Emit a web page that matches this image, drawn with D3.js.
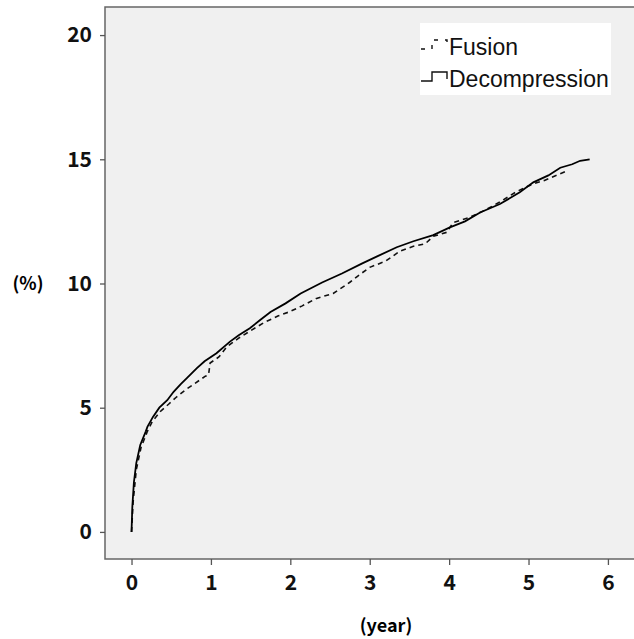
<!DOCTYPE html>
<html>
<head>
<meta charset="utf-8">
<script src="https://cdn.jsdelivr.net/npm/d3@7"></script>
<style>
  body { margin: 0; background: #fff; }
  svg { display: block; }
  .tick text { font-family: "Noto Sans CJK KR", "Noto Sans", sans-serif; font-weight: bold; }
</style>
</head>
<body>
<div id="chart"></div>
<script>
// cumulative incidence
const decompYears = [0, 0.01, 0.03, 0.06, 0.11, 0.18, 0.20, 0.27, 0.35, 0.45, 0.53, 0.62, 0.70, 0.82, 0.92, 1.07, 1.24, 1.35, 1.49, 1.62, 1.75, 1.94, 2.13, 2.40, 2.65, 2.90, 3.10, 3.34, 3.55, 3.80, 4.01, 4.20, 4.39, 4.64, 4.89, 5.06, 5.25, 5.40, 5.55, 5.65, 5.77];
const decompPct = [0, 1.0, 2.0, 2.77, 3.5, 4.05, 4.23, 4.63, 5.0, 5.3, 5.64, 5.95, 6.2, 6.58, 6.87, 7.19, 7.66, 7.92, 8.2, 8.53, 8.85, 9.2, 9.6, 10.04, 10.4, 10.8, 11.1, 11.46, 11.7, 11.95, 12.26, 12.5, 12.86, 13.2, 13.67, 14.07, 14.35, 14.66, 14.8, 14.94, 15.0];

const fusionYears = [0, 0.02, 0.06, 0.12, 0.20, 0.26, 0.36, 0.47, 0.57, 0.68, 0.80, 0.93, 0.97, 0.99, 1.10, 1.20, 1.35, 1.50, 1.67, 1.85, 1.98, 2.15, 2.33, 2.54, 2.75, 2.85, 3.00, 3.20, 3.38, 3.55, 3.70, 3.80, 3.97, 4.05, 4.25, 4.45, 4.65, 4.85, 5.05, 5.20, 5.29, 5.46];
const fusionPct = [0, 1.2, 2.5, 3.4, 4.05, 4.43, 4.84, 5.15, 5.44, 5.72, 5.98, 6.27, 6.32, 6.8, 7.04, 7.45, 7.8, 8.1, 8.43, 8.7, 8.85, 9.1, 9.4, 9.6, 10.05, 10.3, 10.65, 10.9, 11.3, 11.5, 11.6, 11.9, 12.06, 12.45, 12.65, 12.95, 13.3, 13.7, 14.0, 14.15, 14.27, 14.5];

const xTicks = [0, 1, 2, 3, 4, 5, 6];
const yTicks = [0, 5, 10, 15, 20];
const seriesNames = ["Fusion", "Decompression"];

const W = 634, H = 639;
const plot = { left: 105, top: 7, right: 640, bottom: 559 };

const svg = d3.select("#chart").append("svg")
    .attr("width", W)
    .attr("height", H);

const x = d3.scaleLinear().domain([-0.334, 6.4]).range([plot.left, plot.left + (6.4 + 0.334) * 79.4]);
const y = d3.scaleLinear().domain([-1.09, 21.13]).range([plot.bottom, plot.top]);

// plot background + frame
svg.append("rect")
    .attr("x", plot.left)
    .attr("y", plot.top)
    .attr("width", plot.right - plot.left)
    .attr("height", plot.bottom - plot.top)
    .attr("fill", "#f0f0f0")
    .attr("stroke", "#666")
    .attr("stroke-width", 1.5);

const xAxis = svg.append("g")
    .attr("transform", `translate(0, ${plot.bottom})`)
    .call(d3.axisBottom(x).tickValues(xTicks).tickSize(6).tickPadding(10).tickFormat(d3.format("d")));

const yAxis = svg.append("g")
    .attr("transform", `translate(${plot.left}, 0)`)
    .call(d3.axisLeft(y).tickValues(yTicks).tickSize(5).tickPadding(8).tickFormat(d3.format("d")));

[xAxis, yAxis].forEach(a => {
    a.select(".domain").remove();
    a.selectAll(".tick line").attr("stroke", "#555").attr("stroke-width", 1.3);
    a.selectAll(".tick text").style("font-size", "21px").attr("fill", "#111");
});

svg.append("text")
    .attr("x", 386)
    .attr("y", 632)
    .attr("text-anchor", "middle")
    .style("font-family", "'Noto Sans CJK KR', sans-serif")
    .style("font-weight", "bold")
    .style("font-size", "18px")
    .text("(year)");

svg.append("text")
    .attr("x", 28)
    .attr("y", 290)
    .attr("text-anchor", "middle")
    .style("font-family", "'Noto Sans CJK KR', sans-serif")
    .style("font-weight", "bold")
    .style("font-size", "18px")
    .text("(%)");

const line = d3.line()
    .x(d => x(d[0]))
    .y(d => y(d[1]));

const fusion = d3.zip(fusionYears, fusionPct);
const decomp = d3.zip(decompYears, decompPct);

svg.append("path")
    .datum(fusion)
    .attr("d", line)
    .attr("fill", "none")
    .attr("stroke", "#111")
    .attr("stroke-width", 1.6)
    .attr("stroke-dasharray", "5,4");

svg.append("path")
    .datum(decomp)
    .attr("d", line)
    .attr("fill", "none")
    .attr("stroke", "#000")
    .attr("stroke-width", 1.8);

// legend
const legend = svg.append("g").attr("transform", "translate(420, 23)");

legend.append("rect")
    .attr("width", 191)
    .attr("height", 72)
    .attr("fill", "#fff");

const sym = [
    { name: seriesNames[0], dash: "4,7", y: 32 },
    { name: seriesNames[1], dash: null, y: 64 }
];

sym.forEach(s => {
    legend.append("path")
        .attr("d", `M1,${s.y - 6} H12 V${s.y - 15} H27 V${s.y - 8}`)
        .attr("fill", "none")
        .attr("stroke", "#111")
        .attr("stroke-width", 1.4)
        .attr("stroke-dasharray", s.dash);
    legend.append("text")
        .attr("x", 29)
        .attr("y", s.y)
        .style("font-family", "'Liberation Sans', Arial, sans-serif")
        .style("font-size", "23px")
        .attr("fill", "#111")
        .text(s.name);
});
</script>
</body>
</html>
